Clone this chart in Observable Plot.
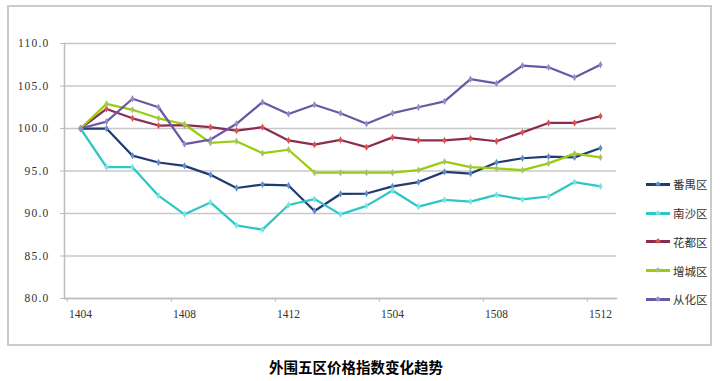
<!DOCTYPE html>
<html>
<head>
<meta charset="utf-8">
<script src="https://cdn.jsdelivr.net/npm/d3@7"></script>
<script src="https://cdn.jsdelivr.net/npm/@observablehq/plot@0.6"></script>
<style>
  html, body { margin: 0; padding: 0; background: #fff; }
  #wrap { position: relative; width: 720px; height: 381px; overflow: hidden; font-family: "Liberation Serif", "DejaVu Serif", serif; }
  #frame { position: absolute; left: 7px; top: 5px; width: 705px; height: 341px; box-sizing: border-box; border: 2px solid #cbcbcb; }
  #chart { position: absolute; left: 0; top: 0; }
  #chart g[aria-label="y-axis tick label"] text { letter-spacing: 1.2px; }
  #legend { position: absolute; left: 646px; top: 170px; font-family: "Noto Sans CJK SC", sans-serif; font-size: 11.5px; color: #333; }
  .item { display: flex; align-items: center; height: 28.75px; }
  .sw { position: relative; width: 24px; height: 3px; margin-right: 3px; }
  .sw i { position: absolute; left: 10px; top: -1px; width: 4px; height: 4px; transform: rotate(45deg); }
  #title { position: absolute; left: 0; width: 712px; top: 357px; text-align: center; font-family: "Noto Sans CJK SC", sans-serif; font-weight: bold; font-size: 14.5px; color: #000; line-height: 20px; }
</style>
</head>
<body>
<div id="wrap">
  <div id="frame"></div>
  <div id="chart"></div>
  <div id="legend"></div>
  <div id="title">外围五区价格指数变化趋势</div>
</div>
<script>
const months = ["1404","1405","1406","1407","1408","1409","1410","1411","1412",
  "1501","1502","1503","1504","1505","1506","1507","1508","1509","1510","1511","1512"];
const xLabels = ["1404","1408","1412","1504","1508","1512"];
const yTicks = [80, 85, 90, 95, 100, 105, 110];

const seriesNames = ["番禺区", "南沙区", "花都区", "增城区", "从化区"];
const lineColors = ["#1f3b6f", "#2ec6c6", "#8b2c55", "#99cc11", "#6a58a4"];
const markColors = ["#5b8fd0", "#7fe0e0", "#e0504a", "#a8c070", "#9a88c8"];

const panyu     = [100, 100, 96.8, 96.0, 95.6, 94.55, 93.0, 93.4, 93.3, 90.3, 92.3, 92.35, 93.2, 93.7, 94.9, 94.7, 96.0, 96.5, 96.7, 96.6, 97.7];
const nansha    = [100, 95.45, 95.45, 92.1, 89.9, 91.3, 88.6, 88.1, 91.0, 91.7, 89.9, 90.9, 92.7, 90.8, 91.6, 91.4, 92.2, 91.65, 92.0, 93.7, 93.2];
const huadu     = [100, 102.3, 101.2, 100.35, 100.4, 100.15, 99.75, 100.15, 98.6, 98.1, 98.65, 97.8, 98.95, 98.6, 98.6, 98.85, 98.5, 99.55, 100.65, 100.65, 101.45];
const zengcheng = [100, 102.9, 102.2, 101.2, 100.5, 98.3, 98.5, 97.1, 97.5, 94.8, 94.8, 94.8, 94.8, 95.1, 96.1, 95.45, 95.3, 95.1, 95.9, 97.05, 96.6];
const conghua   = [100, 100.8, 103.5, 102.5, 98.15, 98.7, 100.55, 103.1, 101.7, 102.8, 101.8, 100.55, 101.8, 102.5, 103.2, 105.8, 105.3, 107.4, 107.2, 106.0, 107.5];

const allValues = [panyu, nansha, huadu, zengcheng, conghua];
const data = [];
allValues.forEach((vals, s) => vals.forEach((v, i) => data.push({series: seriesNames[s], month: months[i], value: v})));

const W = 720, H = 340;
const mL = 64, mR = 104, mT = 43, mB = 42;
const step = (W - mL - mR) / months.length;

const chart = Plot.plot({
  width: W, height: H,
  marginLeft: mL, marginRight: mR, marginTop: mT, marginBottom: mB,
  style: { fontFamily: "'Liberation Serif', serif", fontSize: "11.5px", color: "#333", background: "transparent" },
  x: { type: "point", domain: months, padding: 0.5, label: null },
  y: { domain: [80, 110], label: null },
  color: { domain: seriesNames, range: lineColors },
  marks: [
    Plot.gridY(yTicks, { stroke: "#c8c8c8", strokeOpacity: 1, strokeWidth: 1.5 }),
    Plot.frame({ anchor: "left", stroke: "#bdbdbd", strokeWidth: 1.5 }),
    Plot.frame({ anchor: "bottom", stroke: "#bdbdbd", strokeWidth: 1.5 }),
    Plot.axisY({ ticks: yTicks, tickSize: 4, tickPadding: 11, tickFormat: d3.format(".1f"), stroke: "#bdbdbd", fill: "#333" }),
    Plot.axisX({ ticks: xLabels, tickSize: 4, tickFormat: () => "", dx: -step / 2, stroke: "#bdbdbd" }),
    Plot.axisX({ ticks: xLabels, tickSize: 0, tickPadding: 11, fill: "#333" }),
    ...seriesNames.map((name, s) => Plot.line(data.filter(d => d.series === name), {
      x: "month", y: "value", stroke: lineColors[s], strokeWidth: 2.25, curve: "linear"
    })),
    ...seriesNames.map((name, s) => Plot.dot(data.filter(d => d.series === name), {
      x: "month", y: "value", symbol: "diamond", r: 2.2, fill: markColors[s], stroke: "none"
    }))
  ]
});
document.getElementById("chart").appendChild(chart);

const legend = document.getElementById("legend");
seriesNames.forEach((name, s) => {
  const item = document.createElement("div");
  item.className = "item";
  const sw = document.createElement("span");
  sw.className = "sw";
  sw.style.background = lineColors[s];
  const m = document.createElement("i");
  m.style.background = markColors[s];
  sw.appendChild(m);
  const t = document.createElement("span");
  t.textContent = name;
  item.appendChild(sw);
  item.appendChild(t);
  legend.appendChild(item);
});
</script>
</body>
</html>
